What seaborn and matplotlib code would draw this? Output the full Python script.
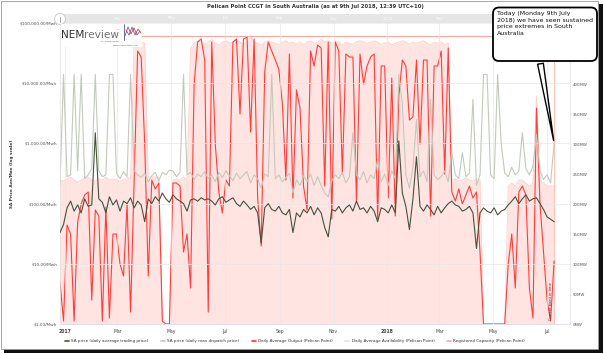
import numpy as np
import pandas as pd
import matplotlib
matplotlib.use("Agg")
import matplotlib.pyplot as plt
import seaborn as sns
from matplotlib.lines import Line2D
from matplotlib.patches import Rectangle, FancyBboxPatch, Circle
from matplotlib.transforms import Affine2D
from matplotlib.ticker import FixedLocator, FixedFormatter, NullLocator

sns.set_theme(style="white")
plt.rcParams['font.family'] = ['DejaVu Sans']

W, H = 604, 354

# -----------------------------
# data (one reading every 4 days, 26 Dec 2016 .. 9 Jul 2018)
# -----------------------------
dates = pd.date_range("2016-12-26", "2018-07-09", freq="4D")

avg_price = [33, 45, 85, 110, 75, 95, 70, 120, 90, 95,
             1500, 120, 105, 70, 130, 95, 115, 75, 110, 100,
             125, 85, 110, 95, 50, 120, 100, 130, 110, 150,
             120, 105, 140, 120, 110, 100, 75, 115, 120, 110,
             125, 115, 120, 110, 95, 120, 130, 105, 115, 125,
             100, 90, 110, 95, 80, 90, 70, 22, 85, 100,
             80, 75, 90, 70, 65, 80, 33, 70, 60, 80,
             70, 90, 65, 85, 70, 40, 28, 80, 75, 90,
             70, 85, 95, 75, 110, 80, 85, 70, 90, 75,
             50, 85, 80, 70, 95, 70, 1100, 150, 90, 37,
             120, 600, 90, 75, 95, 80, 65, 90, 70, 85,
             100, 110, 95, 90, 75, 80, 90, 70, 18, 70,
             85, 75, 70, 85, 65, 75, 80, 95, 110, 130,
             100, 120, 140, 110, 120, 125, 100, 80, 60, 55,
             50]

max_price = [200, 14000, 280, 300, 14000, 350, 14000, 260, 300, 380,
             14000, 350, 280, 300, 14000, 14000, 320, 260, 340, 280,
             14000, 350, 300, 270, 320, 230, 290, 330, 240, 330,
             300, 360, 350, 280, 330, 14000, 300, 330, 250, 310,
             280, 340, 260, 300, 230, 330, 270, 350, 290, 240,
             320, 260, 300, 340, 220, 300, 260, 180, 310, 280,
             14000, 260, 300, 230, 270, 320, 150, 250, 200, 290,
             230, 310, 200, 280, 200, 150, 130, 240, 300, 260,
             330, 220, 280, 1500, 300, 250, 340, 220, 300, 260,
             540, 230, 310, 200, 350, 260, 14000, 4500, 300, 180,
             400, 2500, 280, 350, 230, 5400, 300, 250, 280, 350,
             230, 730, 300, 260, 700, 280, 320, 5400, 200, 300,
             14000, 14000, 300, 260, 14000, 1000, 320, 280, 400, 300,
             350, 1500, 380, 300, 420, 1400, 350, 250, 300, 220,
             1000]

output_mw = [70, 5, 165, 150, 5, 170, 200, 215, 220, 40,
             190, 180, 5, 195, 10, 150, 150, 100, 80, 200,
             20, 240, 455, 445, 300, 80, 240, 225, 235, 5,
             0, 0, 235, 235, 230, 120, 150, 60, 400, 470,
             475, 440, 20, 470, 300, 220, 185, 240, 230, 470,
             475, 350, 475, 478, 320, 475, 210, 130, 420, 470,
             455, 440, 425, 368, 240, 450, 210, 390, 360, 230,
             190, 455, 430, 465, 460, 230, 470, 175, 470, 455,
             250, 450, 445, 445, 205, 450, 400, 430, 445, 450,
             175, 430, 430, 210, 410, 180, 380, 440, 430, 340,
             345, 440, 300, 440, 440, 180, 430, 430, 455, 250,
             460, 220, 205, 225, 200, 215, 230, 210, 220, 120,
             0, 0, 0, 0, 0, 0, 0, 100, 150, 60,
             220, 230, 215, 60, 10, 360, 200, 120, 40, 5,
             105]

avail_mw = [240, 238, 242, 245, 240, 236, 240, 244, 245, 240,
            238, 242, 240, 245, 240, 242, 240, 238, 240, 244,
            242, 470, 470, 470, 468, 245, 245, 245, 245, 0,
            0, 0, 240, 242, 240, 245, 240, 460, 468, 472,
            470, 466, 470, 474, 468, 465, 470, 472, 468, 470,
            474, 470, 466, 472, 478, 470, 468, 465, 470, 472,
            470, 468, 465, 470, 472, 468, 470, 466, 470, 465,
            470, 472, 468, 470, 474, 470, 472, 468, 472, 470,
            465, 470, 468, 466, 470, 472, 470, 468, 470, 472,
            470, 466, 468, 470, 465, 468, 470, 472, 470, 466,
            470, 468, 470, 472, 468, 465, 470, 468, 470, 465,
            468, 240, 242, 238, 240, 244, 240, 238, 242, 240,
            0, 0, 0, 0, 0, 0, 0, 230, 235, 230,
            240, 240, 235, 230, 235, 380, 240, 235, 230, 230,
            230]

registered_capacity = 480

price_ticks = [1, 10, 100, 1000, 10000, 100000]
price_labels = ["$1.00/Mwh", "$10.00/Mwh", "$100.00/Mwh", "$1,000.00/Mwh",
                "$10,000.00/Mwh", "$100,000.00/Mwh"]
mw_ticks = [0, 50, 100, 150, 200, 250, 300, 350, 400, 450]
month_ticks = pd.to_datetime(["2017-01-01", "2017-03-01", "2017-05-01", "2017-07-01",
                              "2017-09-01", "2017-11-01", "2018-01-01", "2018-03-01",
                              "2018-05-01", "2018-07-01"])
month_labels = ["2017", "Mar", "May", "Jul", "Sep", "Nov", "2018", "Mar", "May", "Jul"]

series_names = ["SA price (daily average trading price)",
                "SA price (daily max dispatch price)",
                "Daily Average Output (Pelican Point)",
                "Daily Average Availability (Pelican Point)",
                "Registered Capacity (Pelican Point)"]

c_avg, c_max, c_out, c_avail, c_cap = "#46513b", "#c3cabb", "#ff2b2b", "#ffd9d6", "#f7aaa3"

x_range = (pd.Timestamp("2016-12-26"), pd.Timestamp("2018-07-27"))

# -----------------------------
# figure
# -----------------------------
fig = plt.figure(figsize=(W / 100, H / 100), dpi=100)
fig.patch.set_facecolor("white")
px = Affine2D().scale(1.0 / W, -1.0 / H).translate(0, 1) + fig.transFigure

# screenshot frame with drop shadow
fig.add_artist(Rectangle((4, 4), 599, 349, transform=px, facecolor="#111111",
                         edgecolor="none", zorder=-10))
fig.add_artist(Rectangle((0.5, 0.5), 597, 348, transform=px, facecolor="white",
                         edgecolor="#9a9a9a", lw=0.6, zorder=-9))

left, right, top, bottom = 60, 570, 23, 324
ax = fig.add_axes([left / W, 1 - bottom / H, (right - left) / W, (bottom - top) / H])
ax2 = ax.twinx()
ax.set_zorder(ax2.get_zorder() + 1)
ax.patch.set_visible(False)
ax2.set_facecolor("white")

# MW series (right axis)
ax2.fill_between(dates, avail_mw, color="#ffe4e1", lw=0, zorder=1)
sns.lineplot(x=dates, y=avail_mw, ax=ax2, color="#ffcfca", lw=0.6, zorder=2, legend=False)
sns.lineplot(x=dates, y=np.full(len(dates), registered_capacity), ax=ax2,
             color=c_cap, lw=0.8, zorder=2, legend=False)
sns.lineplot(x=dates, y=output_mw, ax=ax2, color=c_out, lw=0.8, alpha=0.9, zorder=3, legend=False)
ax2.axvline(dates[-1], color="#ffc4bf", lw=0.8, zorder=2)
ax2.text(dates[-1] - pd.Timedelta(days=4), 6, "Current point in time", rotation=90,
         ha="center", va="bottom", fontsize=2.6, color="#333333", zorder=4)

# price series (left axis, log)
sns.lineplot(x=dates, y=max_price, ax=ax, color=c_max, lw=0.8, zorder=2, legend=False)
sns.lineplot(x=dates, y=avg_price, ax=ax, color=c_avg, lw=0.8, zorder=3, legend=False)

ax.set_yscale("log")
ax.set_ylim(1, 100000)
ax2.set_ylim(0, (bottom - top) / 0.6)
ax.set_xlim(*x_range)

ax.yaxis.set_major_locator(FixedLocator(price_ticks))
ax.yaxis.set_major_formatter(FixedFormatter(price_labels))
ax.yaxis.set_minor_locator(NullLocator())
ax2.yaxis.set_major_locator(FixedLocator(mw_ticks))
ax2.set_yticklabels([f"{v}MW" for v in mw_ticks])
ax.xaxis.set_major_locator(FixedLocator(matplotlib.dates.date2num(month_ticks)))
ax.xaxis.set_major_formatter(FixedFormatter(month_labels))

ax.tick_params(axis="y", labelsize=3.1, labelcolor="#555555", length=0, pad=2)
ax2.tick_params(axis="y", labelsize=2.9, labelcolor="#555555", length=0, pad=2)
ax.tick_params(axis="x", labelsize=3.3, labelcolor="#444444", length=2, width=0.5,
               color="#ccd6eb", pad=1.5)
for lab in ax.get_xticklabels():
    if lab.get_text() in ("2017", "2018"):
        lab.set_fontweight("bold")

ax.grid(True, axis="both", color="#e8e8e8", lw=0.5)
ax.set_axisbelow(True)
for a in (ax, ax2):
    for side in ("top", "left", "right", "bottom"):
        a.spines[side].set_visible(False)
for side, col in (("bottom", "#ccd6eb"), ("left", "#e0e0e0"), ("right", "#e0e0e0")):
    ax.spines[side].set_visible(True)
    ax.spines[side].set_color(col)
    ax.spines[side].set_linewidth(0.5)
ax.set_xlabel("")
ax.set_ylabel("")
ax2.set_ylabel("")

# navigator strip above the plot (right end hidden under the callout)
nav = fig.add_axes([left / W, 1 - top / H, (right - left) / W, 9 / H])
nav.set_facecolor("#e6e6e6")
nav.set_xlim(*x_range)
nav.set_ylim(0, 1)
nav.set_xticks([])
nav.set_yticks([])
for side in nav.spines:
    nav.spines[side].set_visible(False)
for d, lab in zip(month_ticks[:-2], month_labels[:-2]):
    nav.text(d, 0.5, lab, ha="center", va="center", fontsize=2.8, color="#fbfbfb")
fig.add_artist(Circle((60, 19), 5.5, transform=px, facecolor="white",
                      edgecolor="#c8c8c8", lw=0.6, zorder=5))
fig.add_artist(Line2D([60, 60], [16.5, 21.5], transform=px, color="#999999", lw=0.6, zorder=6))

# NEMreview logo
fig.add_artist(Rectangle((61, 24), 81, 23, transform=px, facecolor="white",
                         edgecolor="none", zorder=5))
t_nem = fig.text(61, 38.5, "NEM", transform=px, fontsize=7.6, color="#2f2f2f",
                 va="baseline", zorder=6)
fig.canvas.draw()
nem_right = t_nem.get_window_extent().x1 / fig.dpi * 100
fig.text(nem_right, 38.5, "review", transform=px, fontsize=7.6, color="#707070",
         va="baseline", zorder=6)
fig.text(117, 30.5, "™", transform=px, fontsize=2, color="#666666", zorder=6)
fig.text(101, 42, "by Global Roam", transform=px, fontsize=1.6, color="#555555", zorder=6)
fig.text(113, 45.5, "www.NEMreview.info", transform=px, fontsize=1.7, color="#3355aa", zorder=6)
fig.add_artist(Line2D([124, 124], [24, 40], transform=px, color="#333366", lw=0.5, zorder=6))
fig.add_artist(Line2D([125, 128, 131, 134, 137, 140], [36, 27, 34, 28, 35, 31], transform=px,
                      color="#3a6fd0", lw=0.6, zorder=6))
fig.add_artist(Line2D([126, 129, 132, 135, 138, 141], [30, 35, 27, 35, 29, 33], transform=px,
                      color="#e03a3a", lw=0.6, zorder=6))

# title and axis label
fig.text(315, 6.5, "Pelican Point CCGT in South Australia (as at 9th Jul 2018, 12:39 UTC+10)",
         transform=px, ha="center", va="center", fontsize=3.8, fontweight="bold", color="#333333")
fig.text(12, 174, "SA Price Ave/Max (log scale)", transform=px, rotation=90, ha="center",
         va="center", fontsize=3.1, fontweight="bold", color="#333333")

# callout
fig.add_artist(FancyBboxPatch((493, 7.5), 104, 53.5, transform=px,
                              boxstyle="round,pad=0,rounding_size=6",
                              facecolor="white", edgecolor="black", lw=1.3, zorder=7))
fig.text(497, 11, "Today (Monday 9th July\n2018) we have seen sustained\nprice extremes in South\nAustralia",
         transform=px, ha="left", va="top", fontsize=4.5, linespacing=1.4, color="#111111", zorder=8)
ax.annotate("", xy=(dates[-1], max_price[-1]), xytext=(540, 61), textcoords=px,
            arrowprops=dict(arrowstyle="wedge,tail_width=0.35,shrink_factor=0.5",
                            facecolor="none", edgecolor="black", lw=1.0),
            annotation_clip=False, zorder=9)

# legend
handles = [Line2D([], [], color=c, lw=1.2) for c in (c_avg, c_max, c_out, c_avail, c_cap)]
fig.legend(handles, series_names, loc="center", bbox_to_anchor=(295 / W, 1 - 341 / H),
           ncol=5, frameon=False, fontsize=3.0, handlelength=0.9, handletextpad=0.6,
           columnspacing=3.0, labelcolor="#333333")

fig.savefig("out.png", dpi=100, facecolor=fig.get_facecolor())
